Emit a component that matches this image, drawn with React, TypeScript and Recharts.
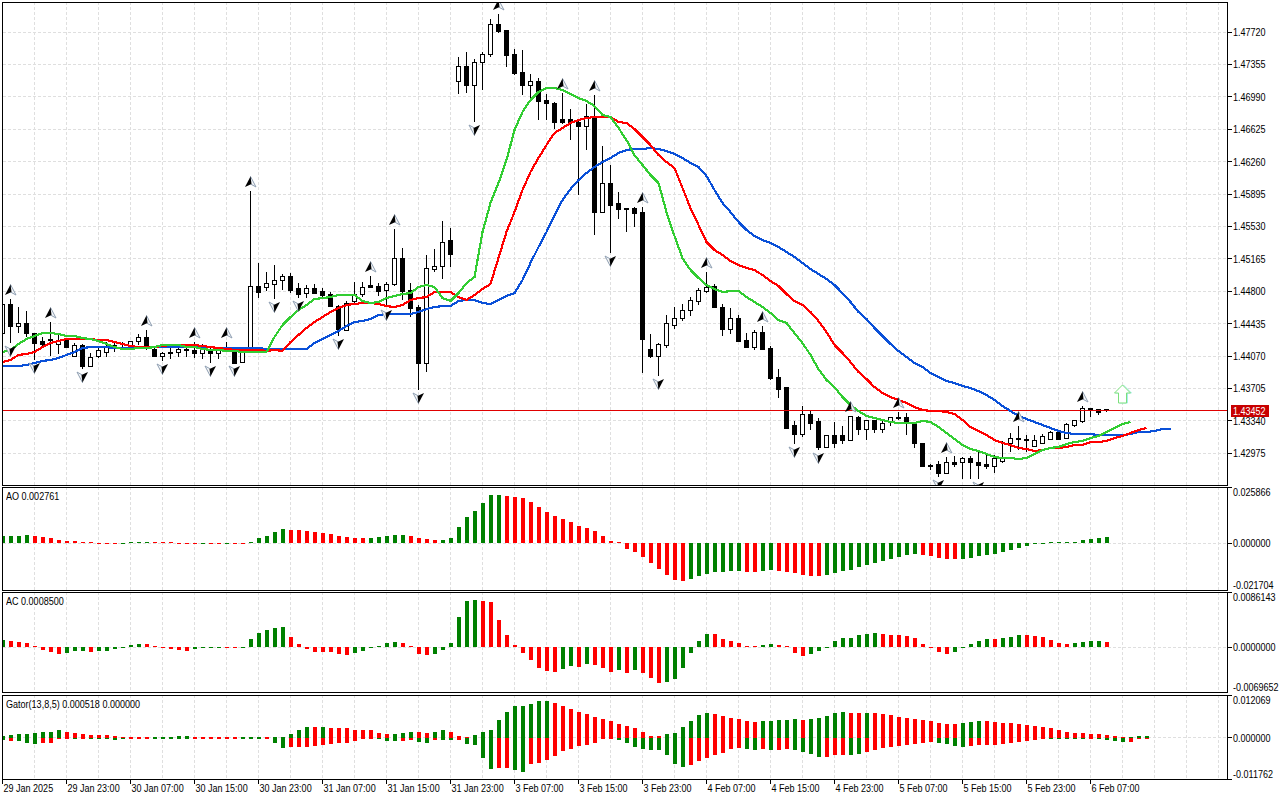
import { Bar, CartesianGrid, Cell, ComposedChart, Line, ReferenceDot, ReferenceLine, XAxis, YAxis } from 'recharts';

// prices are kept in points (price x 100000), one entry per hourly bar
const candleOpen = [
  144329,144645,144397,144431,144329,144228,144250,144205,144250,144059,
  144194,143957,144059,144115,144171,144160,144183,144228,144284,144149,
  144059,144093,144104,144138,144127,144093,144127,144093,144160,144138,
  144002,144160,144858,144847,144881,144926,144971,144825,144779,144836,
  144802,144768,144633,144363,144679,144768,144870,144858,144813,144881,
  145174,144813,144611,143991,145050,145084,145366,147168,147326,147112,
  147382,147472,147799,147742,147461,147269,147112,147157,146943,146920,
  146729,146729,146706,146661,146763,145692,146008,145783,145737,145737,
  145692,144138,144070,144194,144419,144487,144588,144679,144802,144858,
  144622,144374,144498,144250,144171,144340,144160,143833,143720,143282,
  143191,143406,143327,143045,143169,143169,143113,143383,143237,143338,
  143237,143327,143383,143383,143293,143090,142842,142853,142752,142876,
  142865,142921,142865,142853,142820,142887,143090,143146,143124,143056,
  143090,143135,143214,143146,143282,143327,143484,143473,143462,
];
const candleHigh = [
  144667,144712,144622,144577,144329,144284,144453,144307,144273,144216,
  144205,144104,144160,144228,144228,144228,144239,144318,144363,144160,
  144115,144160,144171,144171,144228,144205,144171,144171,144228,144160,
  144138,145929,145118,145016,145095,144994,145005,144892,144870,144881,
  144836,144791,144645,144690,144903,144903,144971,144892,144903,145501,
  145287,144892,144645,145208,145276,145591,145512,147438,147495,147416,
  147495,147866,147923,147742,147528,147517,147247,147202,147022,146932,
  147033,146853,146729,146909,147010,146436,146222,145918,145737,145749,
  145749,144318,144216,144532,144622,144656,144734,144836,145016,144881,
  144656,144611,144532,144329,144363,144408,144183,143923,143720,143338,
  143507,143451,143372,143180,143327,143282,143394,143394,143338,143349,
  143349,143383,143439,143428,143327,143090,142853,142887,142932,142944,
  142932,142944,142989,142966,142955,143113,143203,143282,143180,143180,
  143191,143225,143214,143315,143349,143507,143484,143473,143473,
];
const candleLow = [
  144307,144216,144329,144284,144025,144160,144070,144093,144160,144059,
  143923,143957,144048,144059,144115,144138,144160,144194,144138,144059,
  144014,144036,144059,144059,144048,144036,143991,144036,144115,143991,
  143991,144138,144723,144802,144712,144813,144779,144723,144723,144768,
  144723,144622,144295,144352,144667,144734,144847,144746,144622,144858,
  144701,144509,143687,143890,145016,144937,145073,147022,147033,146706,
  147067,147438,147709,147326,147236,147010,146977,146729,146729,146627,
  146684,146503,145884,146391,145433,145681,145230,145614,145467,145523,
  143878,144048,143845,144160,144374,144464,144521,144645,144779,144611,
  144295,144318,144228,144171,144138,144149,143799,143597,143259,143079,
  143158,143237,143011,143045,143034,143079,143113,143180,143124,143203,
  143203,143282,143349,143180,143034,142820,142786,142707,142741,142820,
  142684,142684,142684,142797,142752,142865,142989,143011,142989,143056,
  143090,143124,143124,143146,143270,143315,143383,143406,143439,
];
const candleClose = [
  144645,144397,144431,144329,144216,144205,144261,144250,144171,144194,
  143957,144048,144127,144171,144183,144171,144228,144284,144171,144059,
  144093,144115,144138,144127,144093,144138,144093,144138,144149,143991,
  144115,144858,144791,144892,144926,144971,144813,144768,144836,144779,
  144757,144633,144374,144667,144768,144847,144847,144802,144881,145174,
  144802,144600,143991,145061,145084,145354,145208,147326,147112,147382,
  147472,147799,147731,147450,147258,147112,147157,146932,146909,146706,
  146706,146706,146661,146763,145692,146008,145771,145726,145726,145681,
  144261,144059,144205,144431,144487,144588,144690,144813,144847,144611,
  144374,144498,144239,144171,144340,144149,143822,143698,143259,143191,
  143406,143315,143045,143169,143090,143113,143394,143237,143338,143237,
  143315,143383,143372,143315,143079,142831,142831,142741,142876,142853,
  142921,142876,142842,142820,142921,142921,143146,143124,143135,143113,
  143158,143214,143135,143293,143338,143484,143462,143439,143452,
];

// alligator lines, shifted forward so they run past the last candle
const jaw = [
  143957,143957,143957,143969,143991,144014,144025,144048,144082,144115,
  144160,144171,144171,144171,144160,144160,144160,144160,144160,144171,
  144171,144171,144171,144171,144171,144171,144171,144160,144160,144160,
  144160,144160,144160,144149,144149,144149,144149,144149,144149,144216,
  144261,144307,144352,144408,144453,144464,144487,144532,144543,144543,
  144543,144543,144566,144600,144622,144633,144633,144690,144701,144701,
  144667,144656,144701,144746,144779,144926,145118,145298,145467,145658,
  145827,145951,146053,146132,146199,146256,146301,146357,146391,146402,
  146402,146413,146402,146380,146346,146301,146244,146199,146098,145940,
  145794,145692,145580,145490,145422,145377,145343,145298,145242,145185,
  145118,145050,144994,144937,144870,144779,144679,144566,144487,144385,
  144295,144205,144127,144059,143991,143946,143878,143833,143788,143766,
  143732,143709,143675,143630,143575,143507,143451,143394,143360,143327,
  143293,143259,143225,143203,143191,143191,143191,143180,143180,143180,
  143180,143191,143214,143214,143225,143248,143248,
];
const teeth = [
  144002,144025,144082,144093,144115,144171,144216,144239,144261,144261,
  144261,144261,144250,144250,144228,144205,144183,144171,144171,144171,
  144183,144194,144194,144194,144194,144183,144171,144160,144149,144138,
  144138,144138,144138,144127,144138,144127,144228,144307,144385,144453,
  144509,144566,144611,144645,144656,144667,144667,144656,144633,144622,
  144645,144701,144723,144734,144791,144791,144791,144734,144701,144757,
  144825,144881,145174,145467,145692,145940,146143,146301,146447,146582,
  146639,146695,146729,146751,146763,146763,146763,146706,146695,146627,
  146537,146447,146334,146256,146188,145963,145737,145546,145354,145264,
  145208,145140,145095,145061,145039,144982,144915,144858,144768,144690,
  144645,144566,144464,144340,144194,144104,144002,143890,143811,143720,
  143653,143608,143575,143541,143496,143462,143451,143451,143439,143417,
  143349,143270,143225,143180,143124,143090,143068,143034,143022,143000,
  143011,143034,143034,143045,143068,143068,143101,143101,143113,143146,
  143169,143203,143237,143259,
];
const lips = [
  144115,144138,144205,144261,144295,144329,144329,144318,144295,144295,
  144273,144261,144239,144205,144171,144149,144149,144160,144160,144171,
  144194,144194,144194,144171,144171,144149,144138,144138,144127,144127,
  144115,144115,144115,144115,144284,144419,144509,144588,144645,144712,
  144723,144734,144757,144757,144757,144690,144667,144679,144723,144746,
  144768,144779,144847,144870,144847,144723,144690,144779,144892,144960,
  145467,145794,146019,146278,146616,146819,146954,147044,147089,147089,
  147067,147022,146977,146943,146886,146785,146763,146639,146503,146334,
  146222,146109,146019,145692,145422,145174,145039,144949,144870,144825,
  144791,144802,144802,144734,144679,144622,144555,144476,144442,144329,
  144216,144082,143923,143799,143720,143608,143518,143451,143394,143372,
  143349,143327,143315,143315,143315,143338,143327,143270,143203,143135,
  143068,143022,143000,142966,142932,142921,142921,142910,142921,142966,
  143011,143034,143045,143079,143101,143113,143146,143169,143214,143259,
  143304,143327,
];

// bars that carry a Williams fractal
const fractalUpBars = [1, 6, 18, 24, 28, 31, 46, 49, 62, 70, 74, 80, 88, 95, 106, 112, 118, 127, 135];
const fractalDownBars = [1, 4, 10, 20, 26, 29, 34, 37, 42, 48, 52, 59, 76, 82, 99, 102, 117, 122];

const aoValues = [
  .00309,.00340,.00340,.00387,.00340,.00294,.00248,.00155,.00108,.00093,
  .00046,.00031,-.00015,-.00015,-.00015,-.00015,.00015,.00031,.00031,.00031,
  .00015,.00015,-.00015,-.00031,-.00046,-.00046,-.00046,-.00046,-.00046,-.00046,
  -.00046,.00031,.00232,.00325,.00511,.00665,.00619,.00619,.00572,.00526,
  .00480,.00433,.00340,.00294,.00248,.00248,.00248,.00294,.00340,.00387,
  .00387,.00340,.00248,.00201,.00155,.00155,.00248,.00758,.01222,.01501,
  .01825,.02197,.02197,.02150,.02104,.02058,.01872,.01640,.01454,.01269,
  .01129,.00990,.00804,.00712,.00572,.00340,.00093,.00015,-.00263,-.00402,
  -.00634,-.00913,-.01222,-.01470,-.01702,-.01748,-.01655,-.01516,-.01423,-.01330,
  -.01330,-.01284,-.01284,-.01330,-.01330,-.01284,-.01238,-.01284,-.01330,-.01377,
  -.01470,-.01516,-.01516,-.01470,-.01377,-.01284,-.01238,-.01098,-.01006,-.00913,
  -.00820,-.00727,-.00634,-.00541,-.00495,-.00541,-.00588,-.00681,-.00727,-.00727,
  -.00727,-.00681,-.00588,-.00541,-.00495,-.00402,-.00309,-.00217,-.00124,-.00031,
  -.00015,.00031,.00031,.00031,.00062,.00139,.00186,.00232,.00276,
];
const aoDirection =
  'GGGGRRRRRR' + 'RRRRRGGGGR' + 'RRRRRGRRGR' + 'RGGGGGRRRR' + 'RRRRRRGGGG' + 'GRRRRGGGGG' + 'GGGRRRRRRR' +
  'RRRRRRRRRR' + 'RRRRRRGGGG' + 'GGGRRGGRRR' + 'RRRGGGGGGG' + 'GGGGGRRRRR' + 'GGGGGGGGGG' + 'GGGGGGGGG';

const acValues = [
  .00114,.00099,.00083,.00068,.00005,-.00042,-.00073,-.00104,-.00088,-.00057,
  -.00057,-.00073,-.00057,-.00057,-.00026,-.00010,.00036,.00052,.00052,.00010,
  -.00005,-.00026,-.00042,-.00057,-.00026,-.00005,-.00005,-.00005,-.00005,-.00005,
  -.00005,.00130,.00223,.00270,.00301,.00317,.00161,.00052,-.00021,-.00073,
  -.00073,-.00073,-.00104,-.00119,-.00088,-.00057,-.00005,.00026,.00068,.00083,
  .00068,.00010,-.00104,-.00119,-.00104,-.00042,.00068,.00473,.00722,.00737,
  .00722,.00706,.00426,.00192,.00036,-.00088,-.00197,-.00322,-.00369,-.00384,
  -.00338,-.00291,-.00306,-.00260,-.00275,-.00322,-.00384,-.00353,-.00400,-.00353,
  -.00400,-.00478,-.00556,-.00540,-.00493,-.00322,-.00088,.00099,.00208,.00208,
  .00130,.00099,.00068,.00005,.00003,.00031,.00052,.00031,.00010,-.00088,
  -.00135,-.00104,-.00057,-.00005,.00099,.00145,.00145,.00192,.00208,.00223,
  .00208,.00192,.00192,.00177,.00145,.00052,-.00016,-.00073,-.00104,-.00073,
  -.00005,.00052,.00099,.00130,.00130,.00145,.00161,.00192,.00192,.00177,
  .00161,.00114,.00068,.00052,.00068,.00083,.00099,.00099,.00085,
];
const acDirection =
  'GRRRRRRRGG' + 'GRGGGGGGRR' + 'RRRRGGGGRR' + 'GGGGGGRRRR' + 'RRRRGGGGGG' + 'RRRRGGGGGG' + 'RRRRRRRRRR' +
  'GGRGRRRGRG' + 'RRRGGGGGGR' + 'RRRRRGGRRR' + 'RGGGGGGGGG' + 'RRRRRRRRRG' + 'GGGGRGGGRR' + 'RRRRGGGGR';

const gatorUp = [
  .00038,.00086,.00114,.00114,.00143,.00171,.00171,.00200,.00171,.00143,
  .00114,.00086,.00086,.00086,.00057,.00029,.00029,.00029,.00029,.00029,
  .00029,.00029,.00057,.00057,.00029,.00029,.00029,.00029,.00029,.00029,
  .00029,.00029,.00029,.00029,.00029,.00029,.00114,.00200,.00285,.00285,
  .00285,.00257,.00257,.00257,.00228,.00200,.00200,.00143,.00114,.00114,
  .00143,.00171,.00171,.00143,.00171,.00200,.00171,.00057,.00029,.00086,
  .00171,.00228,.00485,.00713,.00884,.00884,.00941,.01026,.01026,.00969,
  .00884,.00798,.00713,.00656,.00570,.00513,.00456,.00371,.00314,.00257,
  .00171,.00057,.00057,.00114,.00143,.00285,.00456,.00627,.00684,.00656,
  .00599,.00542,.00513,.00456,.00428,.00456,.00456,.00485,.00485,.00513,
  .00485,.00513,.00542,.00599,.00684,.00713,.00684,.00684,.00684,.00684,
  .00656,.00627,.00570,.00542,.00513,.00485,.00456,.00399,.00371,.00371,
  .00399,.00428,.00456,.00456,.00428,.00399,.00399,.00371,.00342,.00314,
  .00285,.00257,.00200,.00171,.00143,.00143,.00114,.00114,.00086,.00057,
  .00029,.00029,.00057,.00052,
];
const gatorUpDirection =
  'GGGGGGGGRR' + 'RRRRRRRRRG' + 'GGGGRRRRRR' + 'GGGRGGGGGR' + 'GRRRRRRRRG' + 'GGRRGGRRRG' + 'GGGGGGGGGR' +
  'RRRRRRRRRR' + 'RRRGGGGGGR' + 'RRRRRGGGGG' + 'RGGGGGRRGR' + 'RRRRRRRRRR' + 'GGGRRRRRRR' + 'RRRRRRRRRR' + 'RGGG';
const gatorDown = [
  -.00076,-.00086,-.00086,-.00143,-.00171,-.00143,-.00143,-.00048,-.00029,-.00029,
  -.00010,-.00019,-.00019,-.00019,-.00057,-.00010,-.00010,-.00010,-.00010,-.00010,
  -.00010,-.00010,-.00019,-.00019,-.00010,-.00010,-.00010,-.00010,-.00010,-.00010,
  -.00010,-.00010,-.00010,-.00010,-.00143,-.00285,-.00257,-.00257,-.00257,-.00228,
  -.00200,-.00171,-.00143,-.00143,-.00086,-.00029,-.00019,-.00029,-.00086,-.00086,
  -.00086,-.00057,-.00114,-.00143,-.00057,-.00057,-.00057,-.00057,-.00171,-.00200,
  -.00570,-.00884,-.00855,-.00855,-.00912,-.00969,-.00741,-.00722,-.00627,-.00513,
  -.00390,-.00314,-.00228,-.00200,-.00143,-.00029,-.00019,-.00057,-.00143,-.00257,
  -.00314,-.00342,-.00342,-.00485,-.00741,-.00827,-.00770,-.00656,-.00570,-.00485,
  -.00428,-.00314,-.00285,-.00314,-.00342,-.00314,-.00342,-.00342,-.00314,-.00342,
  -.00399,-.00456,-.00542,-.00542,-.00485,-.00485,-.00485,-.00456,-.00399,-.00342,
  -.00285,-.00257,-.00228,-.00200,-.00171,-.00143,-.00114,-.00143,-.00171,-.00228,
  -.00257,-.00228,-.00200,-.00200,-.00200,-.00171,-.00143,-.00114,-.00086,-.00057,
  -.00029,-.00019,-.00019,-.00019,-.00019,-.00019,-.00029,-.00029,-.00057,-.00086,
  -.00114,-.00114,-.00010,-.00010,
];
const gatorDownDirection =
  'GRGGGRRRRG' + 'RGGGGGRRRG' + 'GGGGRRRRRR' + 'GGGRGGRRRR' + 'RRRRRRRGGG' + 'RRGGRGGRGG' + 'GGRRGGRRRR' +
  'RRRRRRRGGG' + 'GGGGGGRRRR' + 'RRRGGRGRRG' + 'GGGRRRGGRR' + 'RRRRRRRGGG' + 'GRRRRRRRRR' + 'RGGGGGRGGG' + 'GRRR';

const timeLabels = [
  '29 Jan 2025', '29 Jan 23:00', '30 Jan 07:00', '30 Jan 15:00', '30 Jan 23:00', '31 Jan 07:00',
  '31 Jan 15:00', '31 Jan 23:00', '3 Feb 07:00', '3 Feb 15:00', '3 Feb 23:00', '4 Feb 07:00',
  '4 Feb 15:00', '4 Feb 23:00', '5 Feb 07:00', '5 Feb 15:00', '5 Feb 23:00', '6 Feb 07:00',
];
const priceTicks = [1.4772, 1.47355, 1.4699, 1.46625, 1.4626, 1.45895, 1.4553, 1.45165, 1.448, 1.44435, 1.4407, 1.43705, 1.4334, 1.42975];
const lastPrice = 1.43452;
const signalPrice = 1.43631;
const signalBar = 140;

const aoTicks = [0.025866, 0, -0.021704];
const acTicks = [0.0086143, 0, -0.0069652];
const gatorTicks = [0.012069, 0, -0.011762];

const LAST_SLOT = 153;
const FONT = '"Liberation Sans", sans-serif';
const FONT_SIZE = 10.5;
const NARROW = 0.86; // the terminal's font is narrower than anything installed
const BAR_COLORS: Record<string, string> = { G: '#008000', R: '#ff0000' };
const GRID = '#dfdfdf';
const GRID_DASH = '3 2';

const rows = Array.from({ length: 147 }, (_, i) => {
  const isCandle = i < candleOpen.length;
  return {
    i,
    open: isCandle ? candleOpen[i] / 1e5 : null,
    close: isCandle ? candleClose[i] / 1e5 : null,
    high: isCandle ? candleHigh[i] / 1e5 : null,
    low: isCandle ? candleLow[i] / 1e5 : null,
    range: isCandle ? [candleLow[i] / 1e5, candleHigh[i] / 1e5] : null,
    jaw: i < jaw.length ? jaw[i] / 1e5 : null,
    teeth: i < teeth.length ? teeth[i] / 1e5 : null,
    lips: i < lips.length ? lips[i] / 1e5 : null,
    fractalUp: fractalUpBars.includes(i) ? candleHigh[i] / 1e5 : null,
    fractalDown: fractalDownBars.includes(i) ? candleLow[i] / 1e5 : null,
    ao: aoValues[i] ?? null,
    ac: acValues[i] ?? null,
    gatorUp: gatorUp[i] ?? null,
    gatorDown: gatorDown[i] ?? null,
  };
});
const gatorRows = rows.slice(0, gatorUp.length);

const gridBars = Array.from({ length: 38 }, (_, k) => (k + 1) * 4);

const Candle = (props: any) => {
  const { x, y, width, height, payload } = props;
  if (payload.range == null) return null;
  const cx = x + width / 2;
  const k = height / (payload.high - payload.low || 1);
  const top = y + (payload.high - Math.max(payload.open, payload.close)) * k;
  const bottom = y + (payload.high - Math.min(payload.open, payload.close)) * k;
  const up = payload.close >= payload.open;
  const snap = Math.max(bottom - top, 1);
  return (
    <g shapeRendering="crispEdges">
      <line x1={cx} x2={cx} y1={y} y2={y + height} stroke="#000" />
      {up ? (
        <rect x={cx - 2} y={top} width={4} height={snap} fill="#fff" stroke="#000" />
      ) : (
        <rect x={cx - 2.5} y={top - 0.5} width={5} height={snap + 1} fill="#000" />
      )}
    </g>
  );
};

const UpArrow = (props: any) => {
  const { cx, cy, value, index } = props;
  if (value == null || cy == null) return <g key={index} />;
  const c = cy - 9;
  return (
    <g key={index}>
      <path d={`M${cx} ${c - 5.5}L${cx + 5.5} ${c + 5}L${cx} ${c + 2}Z`} fill="#f4f6f8" stroke="#8f9fb2" strokeWidth={1} />
      <path d={`M${cx} ${c - 5.5}L${cx - 5.5} ${c + 5}L${cx + 1} ${c + 2}Z`} fill="#000" />
    </g>
  );
};

const DownArrow = (props: any) => {
  const { cx, cy, value, index } = props;
  if (value == null || cy == null) return <g key={index} />;
  const c = cy + 8;
  return (
    <g key={index}>
      <path d={`M${cx} ${c + 5.5}L${cx - 5.5} ${c - 5}L${cx} ${c - 2}Z`} fill="#f4f6f8" stroke="#8f9fb2" strokeWidth={1} />
      <path d={`M${cx} ${c + 5.5}L${cx + 5.5} ${c - 5}L${cx - 1} ${c - 2}Z`} fill="#000" />
    </g>
  );
};

const SignalArrow = (props: any) => {
  const { cx, cy } = props;
  const d = (o: number) =>
    `M${cx + o} ${cy - 10}L${cx + o + 8} ${cy - 2}L${cx + o + 4} ${cy - 2}L${cx + o + 4} ${cy + 8}L${cx + o - 4} ${cy + 8}L${cx + o - 4} ${cy - 2}L${cx + o - 8} ${cy - 2}Z`;
  return (
    <g>
      <path d={d(1)} fill="none" stroke="#a8ecec" strokeWidth={1} />
      <path d={d(0)} fill="#fff" stroke="#7be07b" strokeWidth={1} />
    </g>
  );
};

const AxisText = ({ x, y, fill = '#000', children }: any) => (
  <text transform={`translate(${x} ${y}) scale(${NARROW} 1)`} fontSize={FONT_SIZE} fontFamily={FONT} fill={fill}>{children}</text>
);

const priceTick = (props: any) => {
  const { x, y, payload } = props;
  if (payload.value === lastPrice) {
    return (
      <g>
        <rect x={x + 4} y={y - 6} width={38} height={12} fill="#c80000" shapeRendering="crispEdges" />
        <AxisText x={x + 6.5} y={y + 4} fill="#fff">1.43452</AxisText>
      </g>
    );
  }
  return (
    <g>
      <line x1={x} x2={x + 5} y1={y} y2={y} stroke="#000" shapeRendering="crispEdges" />
      <AxisText x={x + 6.5} y={y + 4}>{payload.value.toFixed(5)}</AxisText>
    </g>
  );
};

// top and bottom labels of an indicator pane sit inside the pane height
const paneTick = (ticks: number[], digits: number) => (props: any) => {
  const { x, y, payload } = props;
  const shift = payload.value === ticks[0] ? 5 : payload.value === ticks[2] ? -5 : 0;
  return (
    <g>
      <line x1={x} x2={x + 5} y1={y} y2={y} stroke="#000" shapeRendering="crispEdges" />
      <AxisText x={x + 6.5} y={y + shift + 4}>{payload.value.toFixed(digits)}</AxisText>
    </g>
  );
};

const timeTick = (props: any) => {
  const { x, y, payload } = props;
  return (
    <g>
      <line x1={x} x2={x} y1={y} y2={y + 5} stroke="#000" shapeRendering="crispEdges" />
      <AxisText x={x + 1} y={y + 13}>{timeLabels[payload.value / 8]}</AxisText>
    </g>
  );
};

const Frame = ({ top, height }: { top: number; height: number }) => (
  <div style={{ position: 'absolute', left: 2, top, width: 1226, height, boxSizing: 'border-box', border: '1px solid #000', pointerEvents: 'none' }} />
);

const PaneLabel = ({ top, text }: { top: number; text: string }) => (
  <div
    style={{
      position: 'absolute',
      left: 6,
      top,
      fontFamily: FONT,
      fontSize: FONT_SIZE,
      lineHeight: '12px',
      color: '#000',
      whiteSpace: 'nowrap',
      transform: `scaleX(${NARROW})`,
      transformOrigin: 'left top',
    }}
  >
    {text}
  </div>
);

const Pane = ({ top, height, data = rows, children }: any) => (
  <div style={{ position: 'absolute', left: 2, top }}>
    <ComposedChart
      width={1278}
      height={height}
      data={data}
      stackOffset="sign"
      margin={{ top: 0, right: 0, bottom: 0, left: 0.5 }}
    >
      {children}
    </ComposedChart>
  </div>
);

const indicatorPane = (ticks: number[], digits: number) => [
  <CartesianGrid key="grid" stroke={GRID} strokeDasharray={GRID_DASH} horizontalValues={[0]} verticalValues={gridBars} />,
  <XAxis key="x" type="number" dataKey="i" domain={[0, LAST_SLOT]} allowDataOverflow hide />,
  <YAxis
    key="y"
    orientation="right"
    type="number"
    width={53.5}
    domain={[ticks[2], ticks[0]]}
    allowDataOverflow
    ticks={ticks}
    interval={0}
    axisLine={false}
    tickLine={false}
    tickSize={0}
    tickMargin={0}
    tick={paneTick(ticks, digits)}
  />,
];

// the terminal draws without antialiasing on lines and bars
const crisp = `
  .recharts-cartesian-grid line,
  .recharts-reference-line line,
  .recharts-line-curve,
  .recharts-bar-rectangle path { shape-rendering: crispEdges; }
`;

export default function App() {
  return (
    <div style={{ position: 'absolute', left: 0, top: 0, width: 1280, height: 800, background: '#fff', overflow: 'hidden' }}>
      <style>{crisp}</style>
      <Pane top={2} height={483}>
        <CartesianGrid stroke={GRID} strokeDasharray={GRID_DASH} horizontalValues={priceTicks} verticalValues={gridBars} />
        <XAxis type="number" dataKey="i" domain={[0, LAST_SLOT]} allowDataOverflow hide />
        <YAxis
          orientation="right"
          type="number"
          width={53.5}
          domain={[1.42617, 1.48058]}
          allowDataOverflow
          ticks={[...priceTicks, lastPrice]}
          interval={0}
          axisLine={false}
          tickLine={false}
          tickSize={0}
          tickMargin={0}
          tick={priceTick}
        />
        <ReferenceLine y={lastPrice} stroke="#e00000" />
        <Bar dataKey="range" barSize={5} shape={Candle} isAnimationActive={false} />
        <Line dataKey="jaw" stroke="#0a50d8" strokeWidth={2.2} dot={false} isAnimationActive={false} />
        <Line dataKey="teeth" stroke="#ff0000" strokeWidth={2.2} dot={false} isAnimationActive={false} />
        <Line dataKey="lips" stroke="#32cd32" strokeWidth={2.2} dot={false} isAnimationActive={false} />
        <Line dataKey="fractalUp" stroke="none" dot={UpArrow} activeDot={false} isAnimationActive={false} />
        <Line dataKey="fractalDown" stroke="none" dot={DownArrow} activeDot={false} isAnimationActive={false} />
        <ReferenceDot x={signalBar} y={signalPrice} r={8} shape={SignalArrow} />
      </Pane>

      <Pane top={487} height={103}>
        {indicatorPane(aoTicks, 6)}
        <Bar dataKey="ao" barSize={4} minPointSize={1} isAnimationActive={false}>
          {rows.map((r) => <Cell key={r.i} fill={BAR_COLORS[aoDirection[r.i]]} />)}
        </Bar>
      </Pane>

      <Pane top={592} height={100}>
        {indicatorPane(acTicks, 7)}
        <Bar dataKey="ac" barSize={4} minPointSize={1} isAnimationActive={false}>
          {rows.map((r) => <Cell key={r.i} fill={BAR_COLORS[acDirection[r.i]]} />)}
        </Bar>
      </Pane>

      <Pane top={695} height={105} data={gatorRows}>
        <CartesianGrid stroke={GRID} strokeDasharray={GRID_DASH} horizontalValues={[0]} verticalValues={gridBars} />
        <XAxis
          type="number"
          dataKey="i"
          domain={[0, LAST_SLOT]}
          allowDataOverflow
          height={21}
          ticks={timeLabels.map((_, k) => k * 8)}
          interval={0}
          axisLine={false}
          tickLine={false}
          tickSize={0}
          tickMargin={0}
          tick={timeTick}
        />
        <YAxis
          orientation="right"
          type="number"
          width={53.5}
          domain={[gatorTicks[2], gatorTicks[0]]}
          allowDataOverflow
          ticks={gatorTicks}
          interval={0}
          axisLine={false}
          tickLine={false}
          tickSize={0}
          tickMargin={0}
          tick={paneTick(gatorTicks, 6)}
        />
        <Bar dataKey="gatorUp" stackId="gator" barSize={4} minPointSize={1} isAnimationActive={false}>
          {gatorRows.map((r) => <Cell key={r.i} fill={BAR_COLORS[gatorUpDirection[r.i]]} />)}
        </Bar>
        <Bar dataKey="gatorDown" stackId="gator" barSize={4} minPointSize={1} isAnimationActive={false}>
          {gatorRows.map((r) => <Cell key={r.i} fill={BAR_COLORS[gatorDownDirection[r.i]]} />)}
        </Bar>
      </Pane>

      <Frame top={2} height={484} />
      <Frame top={487} height={104} />
      <Frame top={592} height={101} />
      <Frame top={695} height={85} />
      <PaneLabel top={490} text="AO 0.002761" />
      <PaneLabel top={595} text="AC 0.0008500" />
      <PaneLabel top={698} text="Gator(13,8,5) 0.000518 0.000000" />
    </div>
  );
}
